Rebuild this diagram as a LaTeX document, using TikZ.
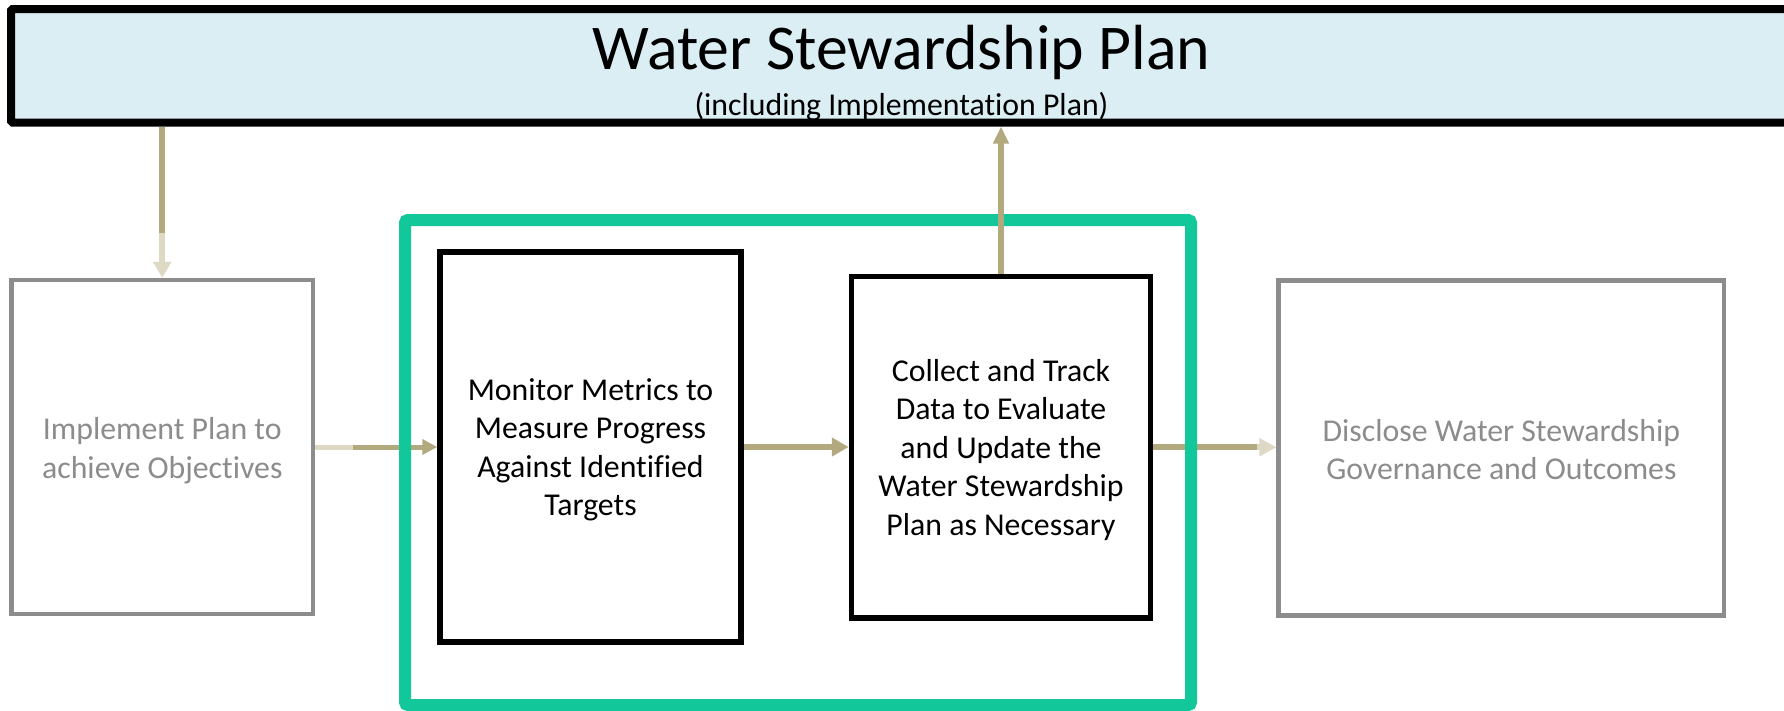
\documentclass[tikz,border=0pt]{standalone}
\usepackage{fontspec}
\setmainfont{Carlito}[Ligatures={NoCommon,NoContextual}]
\usetikzlibrary{arrows.meta}
\definecolor{wspblue}{RGB}{219,238,244}
\definecolor{olivearrow}{RGB}{178,170,126}
\definecolor{lightarrow}{RGB}{221,217,196}
\definecolor{boxgray}{RGB}{140,140,140}
\definecolor{framegreen}{RGB}{18,200,155}
\tikzset{
  blackbox/.style={draw=black, line width=5.5pt, fill=white, inner sep=0pt},
  graybox/.style={draw=boxgray, line width=4.5pt, fill=white, inner sep=0pt},
  boxtext/.style={align=center, inner sep=0pt, font=\fontsize{31.8}{38.5}\selectfont, text=black},
  graytext/.style={boxtext, text=boxgray},
  conn/.style={line width=#1},
}
\begin{document}
\begin{tikzpicture}[x=1pt,y=-1pt]
\path[clip] (0,0) rectangle (1784,710);
\fill[white] (0,0) rectangle (1784,710);
% top plan box
\node[draw=black, line width=8pt, fill=wspblue, minimum width=1781pt, minimum height=113.5pt, inner sep=0pt, rounded corners=1.5pt]
  (wsp) at (901.5,65.75) {};
\node[anchor=base, font=\fontsize{63.8}{76}\selectfont, inner sep=0pt] (wsptitle) at (901.5,69) {Water Stewardship Plan};
\node[anchor=base, font=\fontsize{31.8}{38}\selectfont, inner sep=0pt] (wspsub) at (901.5,115) {(including Implementation Plan)};
% process boxes
\node[graybox, minimum width=301.5pt, minimum height=334pt] (impl) at (162.25,447) {};
\node[graytext, yshift=-3.5pt] (impltxt) at (impl.center) {Implement Plan to\\achieve Objectives};
\node[blackbox, minimum width=301pt, minimum height=390pt] (monitor) at (590.5,447) {};
\node[boxtext, yshift=-3pt] (monitortxt) at (monitor.center) {Monitor Metrics to\\Measure Progress\\Against Identified\\Targets};
\node[blackbox, minimum width=299pt, minimum height=341.5pt] (collect) at (1001,447.25) {};
\node[boxtext, yshift=-2.5pt] (collecttxt) at (collect.center) {Collect and Track\\Data to Evaluate\\and Update the\\Water Stewardship\\Plan as Necessary};
\node[graybox, minimum width=445.3pt, minimum height=335pt] (disclose) at (1501.35,448) {};
\node[graytext, yshift=-1.5pt] (disclosetxt) at (disclose.center) {Disclose Water Stewardship\\Governance and Outcomes};
% horizontal connectors
\draw[conn=5pt, olivearrow, -{Triangle[length=15pt,width=15pt]}] (impl.east) -- (monitor.west);
\draw[conn=5pt, lightarrow] (impl.east) -- ++(38,0);
\draw[conn=6pt, olivearrow, -{Triangle[length=17pt,width=18pt]}] (monitor.east) -- (monitor.east -| collect.west);
\draw[conn=6pt, lightarrow, -{Triangle[length=17pt,width=17pt]}] (collect.east) -- (collect.east -| disclose.west);
\draw[conn=6pt, olivearrow] (collect.east) -- ++(104,0);
% green frame
\draw[framegreen, line width=12pt, rounded corners=3pt] (405,220) rectangle (1191,705);
% vertical connectors
\draw[conn=5.5pt, olivearrow, -{Triangle[length=17pt,width=15pt]}] (collect.north) -- (collect.north |- wsp.south);
\draw[conn=6pt, lightarrow, -{Triangle[length=16pt,width=17.5pt]}] (impl.north |- wsp.south) -- (impl.north);
\draw[conn=6pt, olivearrow] (impl.north |- wsp.south) -- ++(0,106);
\end{tikzpicture}
\end{document}
